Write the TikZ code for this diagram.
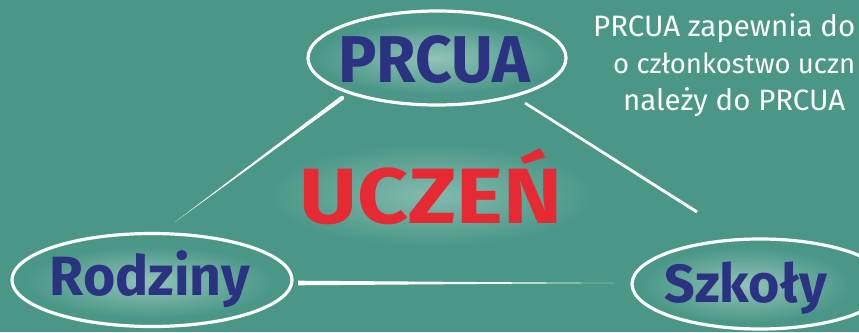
\documentclass[tikz,border=0pt]{standalone}
\usepackage{fontspec}
\setmainfont{Fira Sans}
\usetikzlibrary{shapes.geometric,calc}
\definecolor{board}{HTML}{4A9787}
\definecolor{navy}{HTML}{2B3281}
\definecolor{redtxt}{HTML}{E52A33}
\definecolor{glow}{HTML}{A9D2C9}
\tikzset{
  chalkring/.style={draw=white, line width=3.2pt, ellipse, inner sep=0pt},
  bluetext/.style={text=navy, inner sep=0pt, anchor=base, font=\bfseries},
  redtext/.style={text=redtxt, inner sep=0pt, anchor=base, font=\bfseries},
  notetext/.style={text=white, inner sep=0pt, anchor=base west, font=\fontsize{30}{32}\selectfont},
  chalk/.style={fill=white}
}
\begin{document}
\begin{tikzpicture}[x=1pt,y=-1pt]
\useasboundingbox (0,0) rectangle (859,332);
\clip (0,0) rectangle (859,332);
\fill[board] (0,0) rectangle (859,332);
% glows
\shade[inner color=glow!75!board, outer color=board] (434,58) ellipse [x radius=120, y radius=36];
\shade[inner color=glow!75!board, outer color=board] (150,282) ellipse [x radius=125, y radius=36];
\shade[inner color=glow!75!board, outer color=board] (746,285) ellipse [x radius=105, y radius=38];
\shade[inner color=glow!60!board, outer color=board] (431,195) ellipse [x radius=165, y radius=52];
% rings
\node[chalkring, minimum width=258pt, minimum height=94pt] (prcuaR) at (437,58) {};
\node[chalkring, minimum width=280pt, minimum height=93pt] (rodzR) at (152,280) {};
\node[chalkring, minimum width=256pt, minimum height=90pt] (szkR) at (760,284) {};
% texts
\node[bluetext] (prcua) at (434,82) {\resizebox{192pt}{47pt}{PRCUA}};
\node[bluetext] (rodz) at (150,295) {\resizebox{200pt}{!}{Rodziny}};
\node[bluetext] (szk) at (746,302) {\resizebox{162pt}{!}{Szkoły}};
\node[redtext] (uczen) at (431,223) {\resizebox{262pt}{75pt}{UCZEŃ}};
% connector end points
\coordinate (la) at (175,222);
\coordinate (lb) at (342,98);
\coordinate (ra) at (525,103);
\coordinate (rb) at (697,212);
\coordinate (ba) at (298,283);
\coordinate (bb) at (615,283);
% tapered chalk lines
\fill[chalk] (la) -- ($(lb)!2.2pt!90:(la)$) -- ($(lb)!2.2pt!-90:(la)$) -- cycle;
\fill[chalk] (lb) circle (2.2pt);
\fill[chalk] ($(ra)!1.3pt!90:(rb)$) -- ($(rb)!1.5pt!-90:(ra)$) -- ($(rb)!1.5pt!90:(ra)$) -- ($(ra)!1.3pt!-90:(rb)$) -- cycle;
\fill[chalk] (bb) -- ($(ba)!2.3pt!90:(bb)$) -- ($(ba)!2.3pt!-90:(bb)$) -- cycle;
% note text
\node[notetext] (n1) at (593,37) {\resizebox{262pt}{!}{PRCUA zapewnia do}};
\node[notetext] (n2) at (613,73) {\resizebox{242pt}{!}{o członkostwo uczn}};
\node[notetext] (n3) at (623,110) {\resizebox{222pt}{!}{należy do PRCUA}};
\end{tikzpicture}
\end{document}
